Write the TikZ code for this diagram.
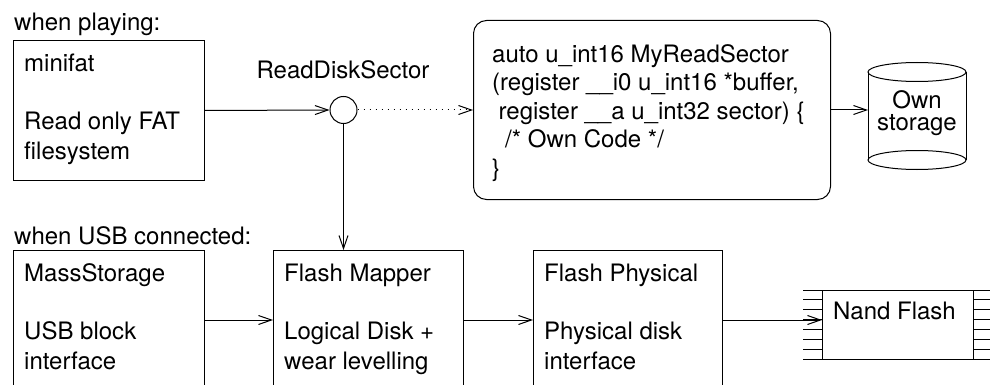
\documentclass[tikz,border=0pt]{standalone}
\usepackage{fontspec}
\setmainfont{TeX Gyre Heros}
\usetikzlibrary{arrows.meta,calc}
\newcommand{\topstrut}{\rule{0pt}{20pt}}
\begin{document}
\begin{tikzpicture}[x=1pt,y=-1pt,
  every node/.style={font=\fontsize{24}{29.3}\selectfont},
  box/.style={draw, line width=1pt, rectangle, inner sep=0pt, anchor=north west},
  txt/.style={inner sep=0pt, align=left, anchor=north west},
  arr/.style={line width=1pt, -{Straight Barb[length=13pt,width=9pt]}},
  ln/.style={line width=1pt},
]
\useasboundingbox (0,0) rectangle (990,385);

% labels (node top = baseline - 20)
\node[txt] (wp) at (14,10) {\topstrut when playing:};
\node[txt] (wu) at (14,224) {\topstrut when USB connected:};

% top row
\node[box, minimum width=191pt, minimum height=140pt] (minifat) at (13,40) {};
\node[txt] (minifatT) at (24,51) {\topstrut minifat\\[29.3pt]Read only FAT\\filesystem};

\node[draw, circle, line width=1pt, minimum size=27pt, inner sep=0pt] (rds) at (343.5,110) {};
\node[txt, anchor=north] (rdsL) at (343,58) {\topstrut ReadDiskSector};

\node[box, rounded corners=13pt, minimum width=357pt, minimum height=179pt] (code) at (473,20) {};
\node[txt, font=\fontsize{24}{28.5}\selectfont] (codeT) at (492,42)
  {\topstrut auto u\_int16 MyReadSector\\(register \_\_i0 u\_int16 *buffer,\\\hspace*{6.5pt}register \_\_a u\_int32 sector) \{\\\hspace*{13pt}/* Own Code */\\\}};

% cylinder
\draw[ln] (868,72) -- (868,160) (966,72) -- (966,160);
\draw[ln] (917,72) ellipse [x radius=49pt, y radius=9.5pt];
\draw[ln] (917,160) ellipse [x radius=49pt, y radius=9.5pt];
\node[inner sep=0pt, minimum width=98pt, minimum height=60pt, align=center,
      font=\fontsize{24}{22}\selectfont] (own) at (917,113) {Own\\storage};

% bottom row
\node[box, minimum width=191pt, minimum height=150pt] (mass) at (13,250) {};
\node[txt] (massT) at (24,261) {\topstrut MassStorage\\[29.3pt]USB block\\interface};
\node[box, minimum width=190pt, minimum height=150pt] (mapper) at (273,250) {};
\node[txt] (mapperT) at (284,261) {\topstrut Flash Mapper\\[29.3pt]Logical Disk +\\wear levelling};
\node[box, minimum width=189pt, minimum height=150pt] (phys) at (533,250) {};
\node[txt] (physT) at (544,261) {\topstrut Flash Physical\\[29.3pt]Physical disk\\interface};
\node[box, minimum width=151pt, minimum height=69pt] (nand) at (822,290) {};
\node[txt] (nandT) at (833,299) {\topstrut Nand Flash};
\foreach \k in {0,...,7} {
  \draw[ln] ($(nand.north west)+(0,\k*9.857)$) -- ++(-19,0);
  \draw[ln] ($(nand.north east)+(0,\k*9.857)$) -- ++(19,0);
}

% connectors
\coordinate (row) at (0,320);
\draw[arr] (minifat.east) -- (rds.west);
\draw[arr, dash pattern=on 1pt off 5pt] (rds.east) -- (code.west);
\draw[arr] (code.east) -- (868,110);
\draw[arr] (rds.south) -- (rds.south |- mapper.north);
\draw[arr] (mass.east |- row) -- (mapper.west |- row);
\draw[arr] (mapper.east |- row) -- (phys.west |- row);
\draw[arr] (phys.east |- row) -- (nand.west |- row);
\end{tikzpicture}
\end{document}
